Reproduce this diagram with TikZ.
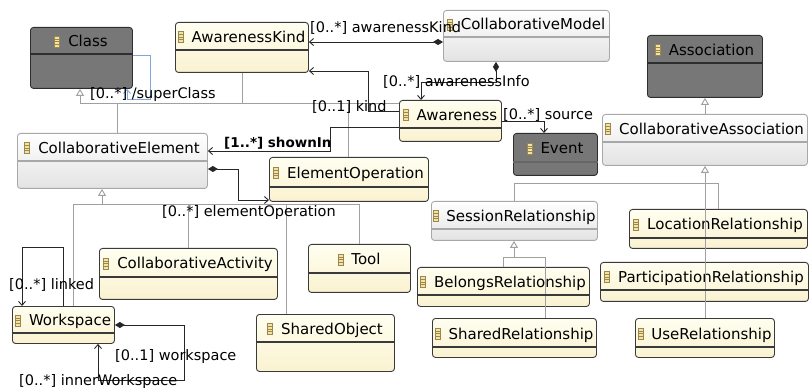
\documentclass[tikz,border=0pt]{standalone}
\usepackage{fontspec}
\setmainfont{DejaVu Sans}
\usetikzlibrary{arrows.meta,calc}

\definecolor{ytop}{HTML}{FFFEF0}
\definecolor{ybot}{HTML}{FAF2D0}
\definecolor{ydraw}{HTML}{3A3A3A}
\definecolor{gbot}{HTML}{E3E3E3}
\definecolor{gdraw}{HTML}{A8A8A8}
\definecolor{dfill}{HTML}{777777}
\definecolor{ddraw}{HTML}{2E2E2E}
\definecolor{gline}{HTML}{A0A0A0}
\definecolor{supblue}{HTML}{7DA8D8}
\definecolor{icod}{HTML}{9C8650}
\definecolor{icof}{HTML}{F3E4A0}

\begin{document}
\begin{tikzpicture}[x=1pt,y=-1pt,font=\fontsize{15}{18}\selectfont]
  \tikzset{
    box/.style={rectangle,rounded corners=3pt,anchor=north west,inner sep=0pt,line width=0.9pt},
    ybox/.style={box,draw=ydraw,top color=ytop,bottom color=ybot},
    gbox/.style={box,draw=gdraw,top color=white,bottom color=gbot},
    dbox/.style={box,draw=ddraw,fill=dfill},
    yhl/.style={draw=ydraw,line width=1.2pt},
    ghl/.style={draw=gdraw,line width=1.2pt},
    dhl/.style={draw=ddraw,line width=1.2pt},
    icon/.style={draw=icod,fill=icof,minimum width=5pt,minimum height=11pt,inner sep=0pt,line width=0.6pt,
      path picture={\foreach \k in {0.27,0.5,0.73}
        \draw[icod,line width=0.5pt] ($(path picture bounding box.south west)!\k!(path picture bounding box.north west)$) -- ++(5pt,0);}},
    cname/.style={anchor=base,inner sep=0pt,text height=11pt,text depth=3.5pt,
      label={[icon,label distance=8pt,yshift=1.75pt]left:{}}},
    lbl/.style={anchor=base west,inner sep=0pt,font=\fontsize{14.5}{17}\selectfont},
    assoc/.style={draw=black!85,line width=0.9pt},
    gen/.style={draw=gline,line width=0.9pt},
    nav/.style={-{Straight Barb[length=4pt,width=7pt]}},
    comp/.style={{Diamond[length=10pt,width=6pt]}-{Straight Barb[length=4pt,width=7pt]}},
    inh/.style={-{Triangle[open,length=7pt,width=8pt,fill=white]}}
  }
  \useasboundingbox (0,0) rectangle (809,390);

  % classes
  \node[dbox,minimum width=102,minimum height=61] (cls) at (30,27) {};
  \node[ybox,minimum width=133,minimum height=50] (kind) at (175,22) {};
  \node[gbox,minimum width=166,minimum height=51] (model) at (443,10) {};
  \node[dbox,minimum width=115,minimum height=62] (assoc) at (647,35) {};
  \node[ybox,minimum width=102,minimum height=41] (aware) at (399,100) {};
  \node[dbox,minimum width=84,minimum height=42] (event) at (513,133) {};
  \node[gbox,minimum width=205,minimum height=51] (cassoc) at (602,114) {};
  \node[gbox,minimum width=190,minimum height=55] (elem) at (17,133) {};
  \node[ybox,minimum width=159,minimum height=44] (op) at (269,157) {};
  \node[ybox,minimum width=178,minimum height=51] (act) at (99,248) {};
  \node[ybox,minimum width=102,minimum height=48] (tool) at (308,244) {};
  \node[ybox,minimum width=102,minimum height=37] (ws) at (12,306) {};
  \node[ybox,minimum width=138,minimum height=57] (shobj) at (256,314) {};
  \node[gbox,minimum width=166,minimum height=39] (sess) at (431,201) {};
  \node[ybox,minimum width=178,minimum height=39] (loc) at (629,209) {};
  \node[ybox,minimum width=172,minimum height=39] (bel) at (417,267) {};
  \node[ybox,minimum width=208,minimum height=39] (part) at (600,262) {};
  \node[ybox,minimum width=164,minimum height=39] (shrel) at (432,318) {};
  \node[ybox,minimum width=139,minimum height=39] (use) at (635,318) {};

  % class names
  \node[cname] (cls-n) at (88,47) {Class};
  \node[cname] (kind-n) at (248.5,42.5) {AwarenessKind};
  \node[cname] (model-n) at (533,30) {CollaborativeModel};
  \node[cname] (assoc-n) at (711.5,55.5) {Association};
  \node[cname] (aware-n) at (457,120.5) {Awareness};
  \node[cname] (event-n) at (562,154) {Event};
  \node[cname] (cassoc-n) at (711.5,134.5) {CollaborativeAssociation};
  \node[cname] (elem-n) at (119,153.5) {CollaborativeElement};
  \node[cname] (op-n) at (355.5,178.5) {ElementOperation};
  \node[cname] (act-n) at (195,269) {CollaborativeActivity};
  \node[cname] (tool-n) at (366,265) {Tool};
  \node[cname] (ws-n) at (70,326) {Workspace};
  \node[cname] (shobj-n) at (332,334.5) {SharedObject};
  \node[cname] (sess-n) at (521,221.5) {SessionRelationship};
  \node[cname] (loc-n) at (725,230) {LocationRelationship};
  \node[cname] (bel-n) at (510,287.5) {BelongsRelationship};
  \node[cname] (part-n) at (711,282.5) {ParticipationRelationship};
  \node[cname] (shrel-n) at (521,339) {SharedRelationship};
  \node[cname] (use-n) at (711.5,339) {UseRelationship};

  % generalizations
  \draw[gen,inh] (aware.west |- 0,103) -- (80,103) -- (cls.south -| 80,0);
  \draw[gen] (elem.north -| 117,0) -- (117,103);
  \draw[gen] (kind.south -| 242,0) -- (242,103);
  \draw[gen] (op.north -| 348,0) -- (348,103);
  \draw[gen,inh] (102,204) -- (elem.south -| 102,0);
  \draw[gen] (ws.north -| 73,0) -- (73,204) -| (tool.north -| 359,0);
  \draw[gen] (act.north -| 188,0) -- (188,204);
  \draw[gen] (shobj.north -| 286,0) -- (286,204);
  \draw[gen,inh] (cassoc.north -| 705,0) -- (assoc.south -| 705,0);
  \draw[gen,inh] (use.north -| 705,0) -- (cassoc.south -| 705,0);
  \draw[gen] (sess.north -| 514,0) |- (718,183) -- (loc.north -| 718,0);
  \draw[gen,inh] (514,257) -- (sess.south -| 514,0);
  \draw[gen] (bel.north -| 503,0) |- (545,257) -- (shrel.north -| 545,0);

  % associations
  \draw[draw=supblue,line width=0.9pt,nav] (cls.east |- 0,55) -- (150,55) |- (127,99) -- (cls.south -| 127,0);
  \draw[assoc,comp] (model.west |- 0,42) -- (kind.east |- 0,42);
  \draw[assoc,comp] (model.south -| 496,0) |- (421,82) -- (aware.north -| 421,0);
  \draw[assoc,nav] (aware.west |- 0,111) -| (368,71) -- (kind.east |- 0,71);
  \draw[assoc,nav] (aware.east |- 0,121) -| (event.north -| 544,0);
  \draw[assoc,nav] (aware.west |- 0,127) -| (330,151) -- (elem.east |- 0,151);
  \draw[assoc,comp] (elem.east |- 0,169) -| (238,200) -- (op.west |- 0,200);
  \draw[assoc,nav] (ws.north -| 63,0) |- (22,247) -- (ws.north -| 22,0);
  \draw[assoc,comp] (ws.east |- 0,325) -| (184,380) -| (ws.south -| 98,0);

  % role labels
  \node[lbl] (super-l) at (90,99) {[0..*] /superClass};
  \node[lbl] (akind-l) at (310,33) {[0..*] awarenessKind};
  \node[lbl] (ainfo-l) at (383,87) {[0..*] awarenessInfo};
  \node[lbl] (kind-l) at (312,112) {[0..1] kind};
  \node[lbl] (src-l) at (503,120) {[0..*] source};
  \node[lbl,font=\fontsize{13.5}{16}\selectfont\bfseries] (shown-l) at (224,148) {[1..*] shownIn};
  \node[lbl] (eop-l) at (162,217) {[0..*] elementOperation};
  \node[lbl] (link-l) at (9,290) {[0..*] linked};
  \node[lbl] (wsp-l) at (115,360) {[0..1] workspace};
  \node[lbl] (inner-l) at (19,385) {[0..*] innerWorkspace};

  % header lines
  \draw[dhl] (cls.west |- 0,54) -- (cls.east |- 0,54);
  \draw[yhl] (kind.west |- 0,50) -- (kind.east |- 0,50);
  \draw[ghl] (model.west |- 0,37) -- (model.east |- 0,37);
  \draw[dhl] (assoc.west |- 0,63) -- (assoc.east |- 0,63);
  \draw[yhl] (aware.west |- 0,128) -- (aware.east |- 0,128);
  \draw[dhl,draw=black!60] (event.west |- 0,162) -- (event.east |- 0,162);
  \draw[ghl] (cassoc.west |- 0,142) -- (cassoc.east |- 0,142);
  \draw[ghl] (elem.west |- 0,161) -- (elem.east |- 0,161);
  \draw[yhl] (op.west |- 0,187) -- (op.east |- 0,187);
  \draw[yhl] (act.west |- 0,277) -- (act.east |- 0,277);
  \draw[yhl] (tool.west |- 0,273) -- (tool.east |- 0,273);
  \draw[yhl] (ws.west |- 0,333) -- (ws.east |- 0,333);
  \draw[yhl] (shobj.west |- 0,342) -- (shobj.east |- 0,342);
  \draw[ghl] (sess.west |- 0,229) -- (sess.east |- 0,229);
  \draw[yhl] (loc.west |- 0,238) -- (loc.east |- 0,238);
  \draw[yhl] (bel.west |- 0,295) -- (bel.east |- 0,295);
  \draw[yhl] (part.west |- 0,290) -- (part.east |- 0,290);
  \draw[yhl] (shrel.west |- 0,347) -- (shrel.east |- 0,347);
  \draw[yhl] (use.west |- 0,347) -- (use.east |- 0,347);
\end{tikzpicture}
\end{document}
